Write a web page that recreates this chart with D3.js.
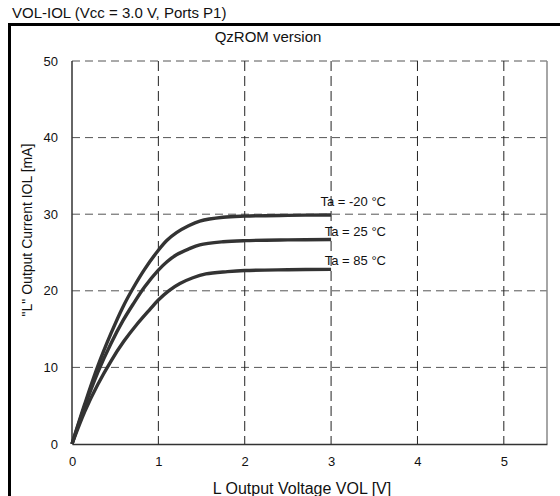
<!DOCTYPE html>
<html>
<head>
<meta charset="utf-8">
<script src="https://cdn.jsdelivr.net/npm/d3@7"></script>
<style>
  html, body { margin: 0; padding: 0; background: #fff; }
  svg { display: block; font-family: Arial, "Liberation Sans", sans-serif; }
</style>
</head>
<body>
<svg id="chart" width="560" height="496"></svg>
<script>
// ---- data ----
const xTicks = [0, 1, 2, 3, 4, 5];
const yTicks = [0, 10, 20, 30, 40, 50];
const seriesNames = ["Ta = -20 °C", "Ta = 25 °C", "Ta = 85 °C"];
const volM20 = [0, 0.15, 0.3, 0.45, 0.59, 0.71, 0.84, 1.0, 1.1, 1.21, 1.35, 1.48, 1.75, 2.0, 2.5, 3.0];
const iolM20 = [0, 5.3, 10.2, 14.4, 17.9, 20.4, 22.8, 25.3, 26.6, 27.6, 28.5, 29.1, 29.6, 29.75, 29.85, 29.9];
const vol25 = [0, 0.15, 0.3, 0.45, 0.59, 0.71, 0.84, 1.0, 1.1, 1.21, 1.35, 1.48, 1.75, 2.0, 2.5, 3.0];
const iol25 = [0, 5.0, 9.4, 13.1, 16.1, 18.3, 20.5, 22.7, 23.8, 24.7, 25.45, 26.0, 26.4, 26.55, 26.65, 26.7];
const vol85 = [0, 0.15, 0.3, 0.45, 0.6, 0.75, 0.9, 1.0, 1.12, 1.25, 1.4, 1.55, 1.8, 2.0, 2.5, 3.0];
const iol85 = [0, 4.3, 7.8, 10.8, 13.4, 15.6, 17.55, 18.8, 20.0, 20.95, 21.7, 22.2, 22.5, 22.65, 22.75, 22.8];

const series = [
  { name: seriesNames[0], v: volM20, i: iolM20 },
  { name: seriesNames[1], v: vol25, i: iol25 },
  { name: seriesNames[2], v: vol85, i: iol85 }
];

// ---- layout ----
const svg = d3.select("#chart");
const pL = 72, pR = 547, pT = 61, pB = 444;
const x = d3.scaleLinear().domain([0, 5.5]).range([pL, pR]);
const y = d3.scaleLinear().domain([0, 50]).range([pB, pT]);

// outer frame (thick, top and left)
svg.append("line").attr("x1", 8).attr("x2", 560).attr("y1", 24.5).attr("y2", 24.5)
  .attr("stroke", "#000").attr("stroke-width", 3);
svg.append("line").attr("x1", 9.5).attr("x2", 9.5).attr("y1", 23).attr("y2", 496)
  .attr("stroke", "#000").attr("stroke-width", 3);

// titles
svg.append("text").attr("x", 12).attr("y", 18).attr("font-size", 15).attr("fill", "#111")
  .text("VOL-IOL (Vcc = 3.0 V, Ports P1)");
svg.append("text").attr("x", 268).attr("y", 42).attr("text-anchor", "middle")
  .attr("font-size", 15).attr("fill", "#111").text("QzROM version");

// grid
const g = svg.append("g");
g.selectAll("line.hgrid").data(yTicks.filter(d => d > 0)).enter().append("line")
  .attr("x1", pL).attr("x2", pR)
  .attr("y1", d => y(d)).attr("y2", d => y(d))
  .attr("stroke", "#555").attr("stroke-width", 1).attr("stroke-dasharray", "8,5");
g.selectAll("line.vgrid").data(xTicks.filter(d => d > 0)).enter().append("line")
  .attr("x1", d => x(d)).attr("x2", d => x(d))
  .attr("y1", pT).attr("y2", pB)
  .attr("stroke", "#222").attr("stroke-width", 1).attr("stroke-dasharray", "10,5");
// right border
svg.append("line").attr("x1", pR).attr("x2", pR).attr("y1", pT).attr("y2", pB)
  .attr("stroke", "#888").attr("stroke-width", 1.5);

// axes
const fmt = d3.format("d");
const xAxis = d3.axisBottom(x).tickValues(xTicks).tickFormat(fmt).tickSize(0).tickPadding(13);
const yAxis = d3.axisLeft(y).tickValues(yTicks).tickFormat(fmt).tickSize(0).tickPadding(14);
const gx = svg.append("g").attr("transform", `translate(0,${pB})`).call(xAxis);
const gy = svg.append("g").attr("transform", `translate(${pL},0)`).call(yAxis);
[gx, gy].forEach(a => {
  a.select(".domain").attr("stroke", "#333").attr("stroke-width", 1.5);
  a.selectAll("text").attr("font-size", 13).attr("fill", "#111")
    .attr("font-family", "Arial, 'Liberation Sans', sans-serif");
});
gy.select(".domain").attr("d", `M0,${pB}V${pT}`);

// axis titles
svg.append("text").attr("x", 302).attr("y", 494).attr("text-anchor", "middle")
  .attr("font-size", 16).attr("fill", "#111").text("L Output Voltage VOL [V]");
svg.append("text").attr("transform", "translate(32,230) rotate(-90)")
  .attr("text-anchor", "middle").attr("font-size", 14).attr("fill", "#111")
  .text("\"L\" Output Current IOL [mA]");

// curves
const line = d3.line().x(d => x(d[0])).y(d => y(d[1])).curve(d3.curveCatmullRom.alpha(0.5));
series.forEach(s => {
  const pts = s.v.map((v, k) => [v, s.i[k]]);
  svg.append("path").datum(pts).attr("d", line)
    .attr("fill", "none").attr("stroke", "#333").attr("stroke-width", 3.4)
    .attr("stroke-linejoin", "round").attr("stroke-linecap", "butt");
});

// labels
const labelDy = [-13, -8, -8.5];
series.forEach((s, k) => {
  const last = s.i[s.i.length - 1];
  svg.append("text").attr("x", 386).attr("y", y(last) + labelDy[k] + 4.5)
    .attr("text-anchor", "end").attr("font-size", 13).attr("fill", "#111")
    .text(s.name);
});
</script>
</body>
</html>
